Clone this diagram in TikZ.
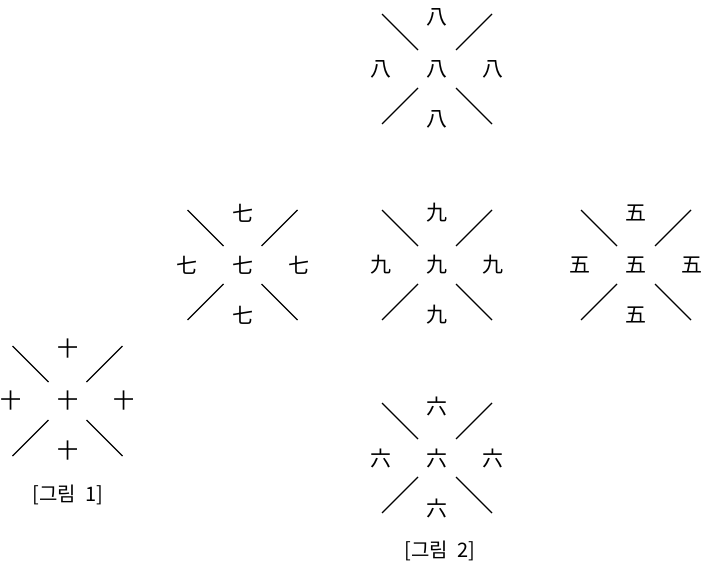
\documentclass[tikz,border=0pt]{standalone}
\usepackage{fontspec}
\setmainfont{Noto Sans CJK KR}
\usetikzlibrary{calc}
\tikzset{
  ch/.style={inner sep=0pt, font=\fontsize{21}{21}\selectfont},
  captext/.style={inner sep=0pt, font=\fontsize{20}{20}\selectfont},
  xline/.style={line width=1.1pt, black},
}
\newcommand{\grp}[4]{%
  \node[ch] (#1c) at (#2,#3) {#4};
  \node[ch] (#1t) at ($(#1c)+(0,-52)$) {#4};
  \node[ch] (#1b) at ($(#1c)+(0,50)$) {#4};
  \node[ch] (#1l) at ($(#1c)+(-56,0)$) {#4};
  \node[ch] (#1r) at ($(#1c)+(56,0)$) {#4};
  \draw[xline] ($(#1c)+(-19,-19)$) -- ($(#1c)+(-55,-55)$);
  \draw[xline] ($(#1c)+(19,-19)$) -- ($(#1c)+(55,-55)$);
  \draw[xline] ($(#1c)+(-19,19)$) -- ($(#1c)+(-55,55)$);
  \draw[xline] ($(#1c)+(19,19)$) -- ($(#1c)+(55,55)$);
}
\begin{document}
\begin{tikzpicture}[x=1pt,y=-1pt]
\useasboundingbox (0,0) rectangle (704,567);
\grp{ba}{437}{69}{八}
\grp{qi}{242.5}{265}{七}
\grp{jiu}{437}{265}{九}
\grp{wu}{636}{265}{五}
\grp{shi}{67.5}{401}{十}
\grp{liu}{437}{458}{六}
\node[captext] (cap1) at (68,495) {[그림\ \ 1]};
\node[captext] (cap2) at (440,551) {[그림\ \ 2]};
\end{tikzpicture}
\end{document}
